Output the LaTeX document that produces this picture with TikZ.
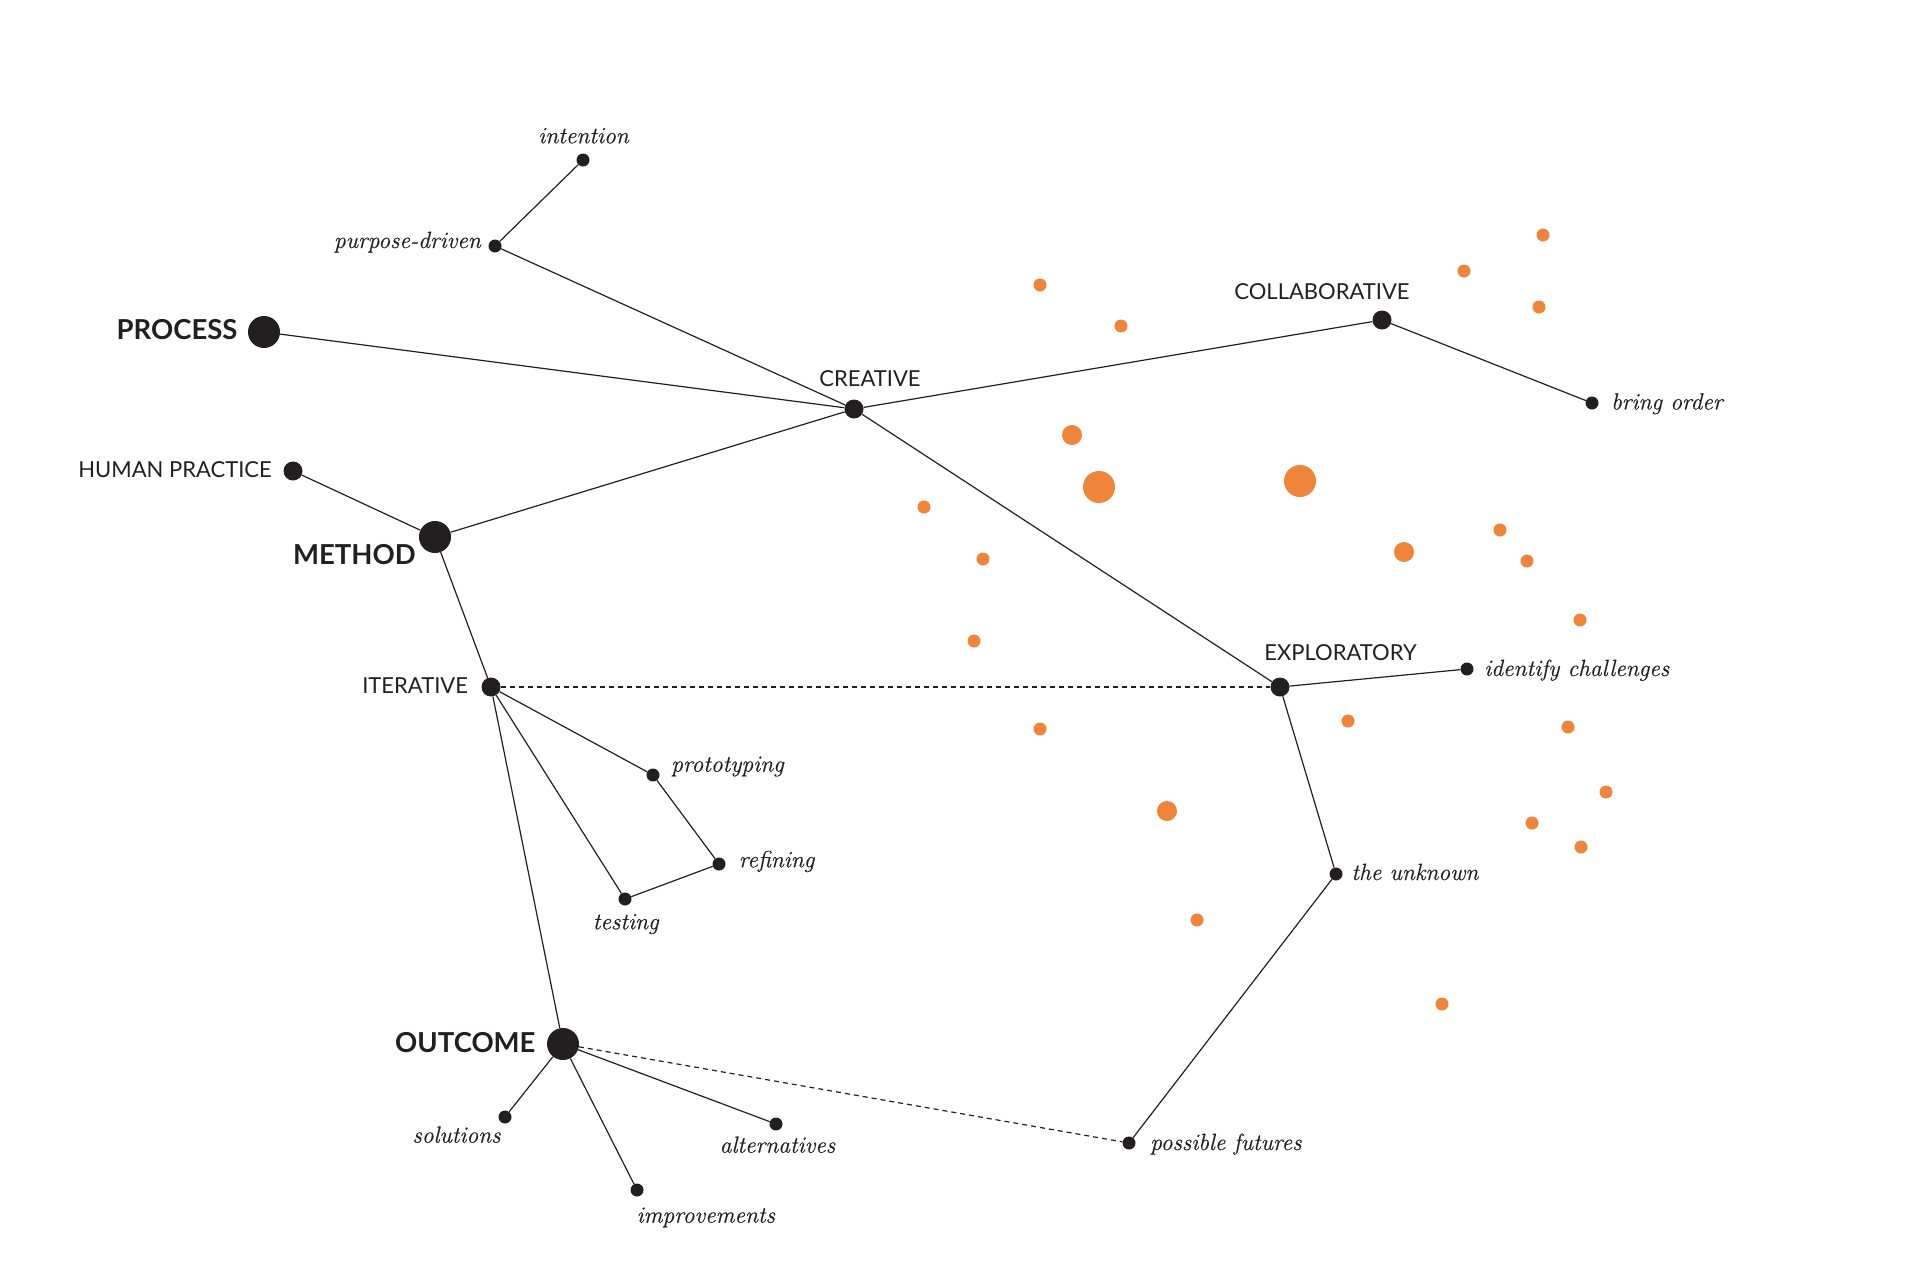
\documentclass[tikz,border=0pt]{standalone}
\usepackage{fontspec}
\newfontfamily\sansf{Lato}
\newfontfamily\itf{Latin Modern Roman}[ItalicFeatures={FakeBold=0.35}]
\definecolor{ink}{HTML}{231F20}
\definecolor{orng}{HTML}{EE853A}
\begin{document}
\begin{tikzpicture}[x=1pt,y=-1pt,
  dotS/.style={circle,fill=ink,inner sep=0pt,minimum size=13pt},
  dotM/.style={circle,fill=ink,inner sep=0pt,minimum size=19pt},
  dotL/.style={circle,fill=ink,inner sep=0pt,minimum size=32pt},
  odS/.style={circle,fill=orng,inner sep=0pt,minimum size=13pt},
  odM/.style={circle,fill=orng,inner sep=0pt,minimum size=20pt},
  odL/.style={circle,fill=orng,inner sep=0pt,minimum size=32pt},
  capt/.style={inner sep=0pt,text=ink,font=\sansf\fontsize{22}{22}\selectfont},
  capB/.style={inner sep=0pt,text=ink,font=\sansf\bfseries\fontsize{27.5}{27.5}\selectfont},
  itl/.style={inner sep=0pt,text=ink,font=\itf\itshape\fontsize{23.5}{23.5}\selectfont},
  link/.style={draw=ink,line width=1.2pt},
  dlink/.style={link,dash pattern=on 5pt off 4pt}]
\fill[white] (0,0) rectangle (1912,1264);
\useasboundingbox (0,0) rectangle (1912,1264);

% orange dots
\foreach \x/\y/\s [count=\i] in {
  1543/235/S, 1464/271/S, 1539/307/S, 1040/285/S, 1121/326/S,
  1072/435/M, 1099/487/L, 1300/481/L, 924/507/S, 983/559/S,
  1404/552/M, 1500/530/S, 1527/561/S, 1580/620/S, 974/641/S,
  1040/729/S, 1348/721/S, 1568/727/S, 1606/792/S, 1167/811/M,
  1532/823/S, 1581/847/S, 1197/920/S, 1442/1004/S}
  \node[od\s] (o\i) at (\x,\y) {};

% black dots
\node[dotS] (intention) at (583,160) {};
\node[dotS] (purpose) at (495,246) {};
\node[dotL] (process) at (264,332) {};
\node[dotM] (creative) at (854,409) {};
\node[dotM] (collab) at (1382,320) {};
\node[dotS] (bring) at (1592,403) {};
\node[dotM] (human) at (293,471) {};
\node[dotL] (method) at (435,537) {};
\node[dotM] (iterative) at (491,687) {};
\node[dotM] (explor) at (1280,687) {};
\node[dotS] (identify) at (1467,669) {};
\node[dotS] (proto) at (653,775) {};
\node[dotS] (refining) at (719,864) {};
\node[dotS] (testing) at (625,899) {};
\node[dotS] (unknown) at (1336,874) {};
\node[dotL] (outcome) at (563,1044) {};
\node[dotS] (solutions) at (505,1117) {};
\node[dotS] (improve) at (637,1190) {};
\node[dotS] (altern) at (776,1124) {};
\node[dotS] (futures) at (1129,1143) {};

% connectors
\draw[link] (intention) -- (purpose);
\draw[link] (purpose) -- (creative);
\draw[link] (creative) -- (explor);
\draw[link] (process) -- (creative);
\draw[link] (creative) -- (collab);
\draw[link] (collab) -- (bring);
\draw[link] (method) -- (creative);
\draw[link] (human) -- (method);
\draw[link] (method) -- (iterative);
\draw[dlink] (iterative) -- (explor);
\draw[link] (iterative) -- (proto);
\draw[link] (proto) -- (refining);
\draw[link] (refining) -- (testing);
\draw[link] (testing) -- (iterative);
\draw[link] (iterative) -- (outcome);
\draw[link] (explor) -- (identify);
\draw[link] (explor) -- (unknown);
\draw[link] (unknown) -- (futures);
\draw[dlink] (outcome) -- (futures);
\draw[link] (outcome) -- (solutions);
\draw[link] (outcome) -- (improve);
\draw[link] (outcome) -- (altern);

% labels
\node[itl,anchor=base] (intentionL) at (583.5,143.3) {intention};
\node[itl,anchor=base east] (purposeL) at (481,248) {purpose-driven};
\node[capB,anchor=east] (processL) at (237.7,329.7) {PROCESS};
\node[capt] (creativeL) at (870,378.3) {CREATIVE};
\node[capt] (collabL) at (1322,291.3) {COLLABORATIVE};
\node[itl,anchor=base west] (bringL) at (1611,409.5) {bring order};
\node[capt,anchor=east] (humanL) at (272,470) {HUMAN PRACTICE};
\node[capB,anchor=east] (methodL) at (416,555) {METHOD};
\node[capt,anchor=east] (iterativeL) at (468.2,686) {ITERATIVE};
\node[capt] (explorL) at (1340.5,653) {EXPLORATORY};
\node[itl,anchor=base west] (identifyL) at (1484,676) {identify challenges};
\node[itl,anchor=base west] (protoL) at (671,771.7) {prototyping};
\node[itl,anchor=base west] (refiningL) at (738.6,867.3) {refining};
\node[itl,anchor=base] (testingL) at (625.7,929.3) {testing};
\node[itl,anchor=base west] (unknownL) at (1351.2,880) {the unknown};
\node[capB,anchor=east] (outcomeL) at (535.7,1042.5) {OUTCOME};
\node[itl,anchor=base] (solutionsL) at (456.5,1142.7) {solutions};
\node[itl,anchor=base] (improveL) at (705.8,1222.7) {improvements};
\node[itl,anchor=base] (alternL) at (777.5,1152.7) {alternatives};
\node[itl,anchor=base west] (futuresL) at (1150,1150) {possible futures};
\end{tikzpicture}
\end{document}
